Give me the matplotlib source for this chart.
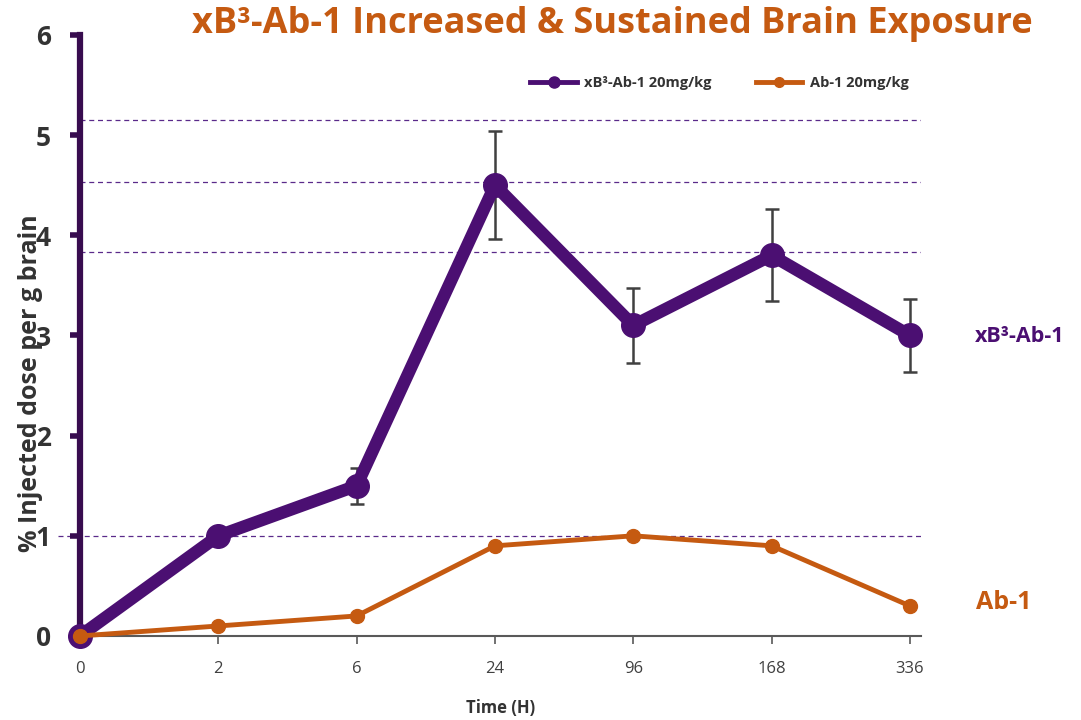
import numpy as np
import matplotlib.pyplot as plt
from matplotlib.lines import Line2D

plt.rcParams['font.family'] = ['Open Sans', 'DejaVu Sans']

# data
time_labels = ['0', '2', '6', '24', '96', '168', '336']
xb3_mean = [0.0, 1.0, 1.5, 4.5, 3.1, 3.8, 3.0]
xb3_err = [0.0, 0.07, 0.18, 0.54, 0.37, 0.46, 0.36]
ab1_mean = [0.0, 0.1, 0.2, 0.9, 1.0, 0.9, 0.3]
ref_lines = [5.15, 4.53, 3.83]

purple = '#4b0f72'
purple_dark = '#380c4f'
orange = '#c55a11'
grey = '#404040'

x = np.arange(len(time_labels))

fig = plt.figure(figsize=(10.81, 7.2), dpi=100)
ax = fig.add_axes([0.074, 0.1167, 0.778, 0.8347])

# dashed reference lines
for yv in ref_lines:
    ax.plot([0, 6.08], [yv, yv], ls=(0, (4, 3)), lw=0.9, color='#5a2a8a', zorder=1)
ax.plot([-0.16, 6.08], [1.0, 1.0], ls=(0, (4, 3)), lw=0.9, color='#5a2a8a', zorder=1, clip_on=False)

# error bars under markers
ax.errorbar(x, xb3_mean, yerr=xb3_err, fmt='none', ecolor=grey, elinewidth=1.8,
            capsize=5, capthick=1.8, zorder=2)
ax.plot(x, xb3_mean, color=purple, lw=9, marker='o', ms=17, zorder=3, clip_on=False)
ax.plot(x, ab1_mean, color=orange, lw=3.5, marker='o', ms=10, zorder=4, clip_on=False)

ax.set_xlim(0, 6.08)
ax.set_ylim(0, 6)
ax.set_xticks(x)
ax.set_xticklabels(time_labels, fontsize=12, color=grey)
ax.set_yticks(range(7))
ax.set_yticklabels([str(i) for i in range(7)], fontsize=19, fontweight='bold', color='#333333')

for s in ['top', 'right']:
    ax.spines[s].set_visible(False)
ax.spines['left'].set_color(purple_dark)
ax.spines['left'].set_linewidth(4.5)
ax.spines['bottom'].set_color('#595959')
ax.spines['bottom'].set_linewidth(1.5)
ax.tick_params(axis='y', length=7, width=4, color=purple_dark, pad=14)
ax.tick_params(axis='x', length=6, width=1.2, color='#595959', pad=12)

ax.set_xlabel('Time (H)', fontsize=12, fontweight='bold', color='#333333', labelpad=16)
ax.set_ylabel('% Injected dose per g brain', fontsize=18, fontweight='bold', color='#333333')
ax.yaxis.set_label_coords(-0.044, 0.42)

fig.text(0.566, 0.966, 'xB³-Ab-1 Increased & Sustained Brain Exposure', ha='center', va='center',
         fontsize=26, fontweight='bold', color=orange)

handles = [Line2D([], [], color=purple, lw=3.5, marker='o', ms=8),
           Line2D([], [], color=orange, lw=3.5, marker='o', ms=7)]
ax.legend(handles, ['xB³-Ab-1 20mg/kg', 'Ab-1 20mg/kg'], loc='center left',
          bbox_to_anchor=(0.52, 0.92), ncol=2, frameon=False, handlelength=3.2,
          columnspacing=3.0, handletextpad=0.5,
          prop={'weight': 'bold', 'size': 10.5}, labelcolor='#333333')

fig.text(0.9435, 0.533, 'xB³-Ab-1', ha='center', va='center', fontsize=15.5,
         fontweight='bold', color=purple)
fig.text(0.929, 0.163, 'Ab-1', ha='center', va='center', fontsize=18,
         fontweight='bold', color=orange)

fig.savefig('out.png', dpi=100)
